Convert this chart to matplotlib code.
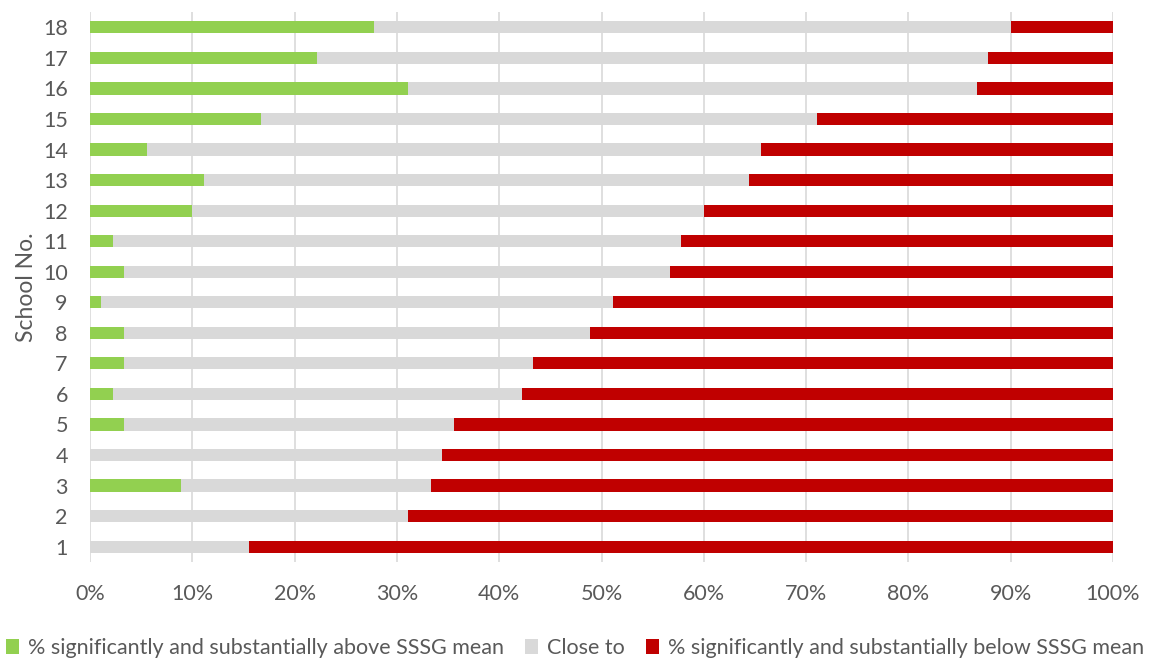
import matplotlib.pyplot as plt
import numpy as np

plt.rcParams['font.family'] = ['Lato', 'DejaVu Sans']

schools = [str(i) for i in range(1, 19)]

# share of pupils per school (%), schools 1..18
above = [0, 0, 8.89, 0, 3.33, 2.22, 3.33, 3.33, 1.11, 3.33,
         2.22, 10.0, 11.11, 5.56, 16.67, 31.11, 22.22, 27.78]
close = [15.56, 31.11, 24.44, 34.44, 32.22, 40.0, 40.0, 45.56, 50.0, 53.33,
         55.56, 50.0, 53.33, 60.0, 54.44, 55.56, 65.56, 62.22]
below = [84.44, 68.89, 66.67, 65.56, 64.44, 57.78, 56.67, 51.11, 48.89, 43.33,
         42.22, 40.0, 35.56, 34.44, 28.89, 13.33, 12.22, 10.0]

series_names = ['% significantly and substantially above SSSG mean',
                'Close to',
                '% significantly and substantially below SSSG mean']
colors = ['#92D050', '#D9D9D9', '#C00000']

text_color = '#595959'

fig = plt.figure(figsize=(11.5, 6.6), dpi=100)
ax = fig.add_axes([0.0783, 0.1485, 0.8895, 0.8333])

y = np.arange(len(schools))
left = np.zeros(len(schools))
for vals, name, col in zip([above, close, below], series_names, colors):
    vals = np.array(vals) / 100
    ax.barh(y, vals, left=left, height=0.4, color=col, label=name, zorder=3)
    left += vals

ax.set_xlim(0, 1)
ax.set_ylim(-0.5, 17.5)
ticks = np.arange(0, 1.01, 0.1)
ax.set_xticks(ticks)
ax.set_xticklabels([f'{int(round(t * 100))}%' for t in ticks])
ax.set_yticks(y)
ax.set_yticklabels(schools)

ax.grid(axis='x', color='#D9D9D9', linewidth=1.2, zorder=0)
for s in ax.spines.values():
    s.set_visible(False)
ax.tick_params(axis='both', length=0, labelsize=15.5, colors=text_color)
ax.tick_params(axis='x', pad=16)
ax.tick_params(axis='y', pad=16)

ax.set_ylabel('School No.', fontsize=16.5, color=text_color, labelpad=4)

fig.legend(loc='lower center', ncol=3, frameon=False, fontsize=15.5,
           labelcolor=text_color, handlelength=0.6, handleheight=0.7,
           handletextpad=0.4, columnspacing=1.0, bbox_to_anchor=(0.5, 0.0),
           borderaxespad=0.1, borderpad=0)

fig.savefig('out.png', dpi=100)
